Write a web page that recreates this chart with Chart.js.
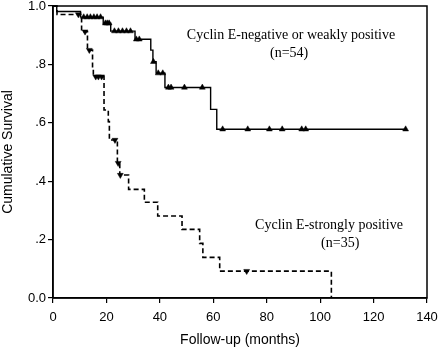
<!DOCTYPE html>
<html>
<head>
<meta charset="utf-8">
<script src="https://cdn.jsdelivr.net/npm/chart.js@4/dist/chart.umd.min.js"></script>
<style>
  html, body { margin: 0; padding: 0; background: #fff; }
</style>
</head>
<body>
<canvas id="km" width="440" height="350"></canvas>
<script>
// Cyclin E-negative or weakly positive (n=54): month of each drop and the new survival level
const negTimes = [0, 1.4, 10.3, 18.8, 21.6, 30.7, 36.6, 37.4, 38.6, 41.9, 59.0, 61.3, 132];
const negSurv  = [1, .981, .962, .941, .914, .886, .849, .809, .770, .721, .646, .578, .578];
// censored cases (solid triangles)
const negCensTimes = [11.5, 12.8, 14.0, 15.3, 16.5, 17.8, 19.6, 20.3, 21.0, 23.0, 24.5, 26.0, 27.5, 29.0,
                      31.2, 32.3, 37.6, 39.4, 41.1, 43.2, 44.2, 49.2, 55.9, 63.5, 72.9, 81.0, 85.8, 93.1, 94.6, 132];
const negCensSurv  = [.962, .962, .962, .962, .962, .962, .941, .941, .941, .914, .914, .914, .914, .914,
                      .886, .886, .809, .770, .770, .721, .721, .721, .721, .578, .578, .578, .578, .578, .578, .578];

// Cyclin E-strongly positive (n=35)
const posTimes = [0, 1.5, 10.7, 12.9, 14.8, 15.1, 19.1, 20.7, 21.1, 24.1, 25.0, 28.3, 34.2, 39.2, 48.3, 54.9, 56.1, 62.4, 104.2];
const posSurv  = [1, .971, .912, .849, .787, .758, .644, .604, .541, .462, .421, .372, .328, .281, .235, .187, .139, .092, 0];
const posCensTimes = [9.5, 12.0, 13.6, 16.0, 17.0, 18.2, 23.2, 24.4, 25.2, 72.5];
const posCensSurv  = [.971, .912, .849, .758, .758, .758, .541, .462, .421, .092];

const xTicks = [0, 20, 40, 60, 80, 100, 120, 140];
const yTicks = [0, .2, .4, .6, .8, 1];
const yTickLabels = ['0.0', '.2', '.4', '.6', '.8', '1.0'];

const pts = (xs, ys) => xs.map((x, i) => ({ x: x, y: ys[i] }));

// frame round the plot and the two group labels
const extras = {
  id: 'extras',
  afterDraw(chart) {
    const { ctx, chartArea: a, scales: { x, y } } = chart;
    ctx.save();
    ctx.strokeStyle = '#000';
    ctx.lineWidth = 1.5;
    ctx.strokeRect(a.left, a.top, a.right - a.left, a.bottom - a.top);
    ctx.fillStyle = '#000';
    ctx.font = '14px "Liberation Serif", "Times New Roman", serif';
    ctx.textAlign = 'center';
    ctx.textBaseline = 'middle';
    ctx.fillText('Cyclin E-negative or weakly positive', x.getPixelForValue(89.1), y.getPixelForValue(0.90));
    ctx.fillText('(n=54)', x.getPixelForValue(88.4), y.getPixelForValue(0.839));
    ctx.fillText('Cyclin E-strongly positive', x.getPixelForValue(103.3), y.getPixelForValue(0.25));
    ctx.fillText('(n=35)', x.getPixelForValue(107.5), y.getPixelForValue(0.188));
    ctx.restore();
  }
};

new Chart(document.getElementById('km'), {
  type: 'line',
  data: {
    datasets: [
      { data: pts(negTimes, negSurv), borderColor: '#000', borderWidth: 1.4, stepped: 'before',
        pointRadius: 0, fill: false, clip: 3 },
      { data: pts(posTimes, posSurv), borderColor: '#000', borderWidth: 1.6, stepped: 'before',
        borderDash: [5, 3], pointRadius: 0, fill: false, clip: 3 },
      { data: pts(negCensTimes, negCensSurv), showLine: false, pointStyle: 'triangle', pointRadius: 3.4,
        backgroundColor: '#000', borderColor: '#000', borderWidth: 0.5, clip: 5 },
      { data: pts(posCensTimes, posCensSurv), showLine: false, pointStyle: 'triangle', rotation: 180,
        pointRadius: 3.4, backgroundColor: '#000', borderColor: '#000', borderWidth: 0.5, clip: 5 }
    ]
  },
  options: {
    responsive: false,
    animation: false,
    events: [],
    layout: { padding: { top: 6, right: 13, left: 0, bottom: 0 } },
    plugins: { legend: { display: false }, tooltip: { enabled: false } },
    scales: {
      x: {
        type: 'linear', min: 0, max: 140,
        afterBuildTicks: s => { s.ticks = xTicks.map(v => ({ value: v })); },
        afterFit: s => { s.height = 52; s.paddingLeft = 0; s.paddingRight = 0; },
        grid: { drawOnChartArea: false, drawTicks: true, tickLength: 5, color: '#000', lineWidth: 1.2 },
        border: { display: true, color: '#000', width: 1.5 },
        ticks: { color: '#000', padding: 7, maxRotation: 0, font: { family: '"Liberation Sans", Arial, sans-serif', size: 13 } },
        title: { display: true, text: 'Follow-up (months)', color: '#000', padding: { top: 0, bottom: 1 },
                 font: { family: '"Liberation Sans", Arial, sans-serif', size: 14 } }
      },
      y: {
        type: 'linear', min: 0, max: 1,
        afterBuildTicks: s => { s.ticks = yTicks.map(v => ({ value: v })); },
        afterFit: s => { s.width = 53; s.paddingTop = 0; s.paddingBottom = 0; },
        grid: { drawOnChartArea: false, drawTicks: true, tickLength: 5, color: '#000', lineWidth: 1.2 },
        border: { display: true, color: '#000', width: 1.5 },
        ticks: { color: '#000', padding: 2, font: { family: '"Liberation Sans", Arial, sans-serif', size: 13 },
                 callback: (v) => yTickLabels[yTicks.findIndex(t => Math.abs(t - v) < 1e-6)] },
        title: { display: true, text: 'Cumulative Survival', color: '#000', padding: 0,
                 font: { family: '"Liberation Sans", Arial, sans-serif', size: 14 } }
      }
    }
  },
  plugins: [extras]
});
</script>
</body>
</html>
